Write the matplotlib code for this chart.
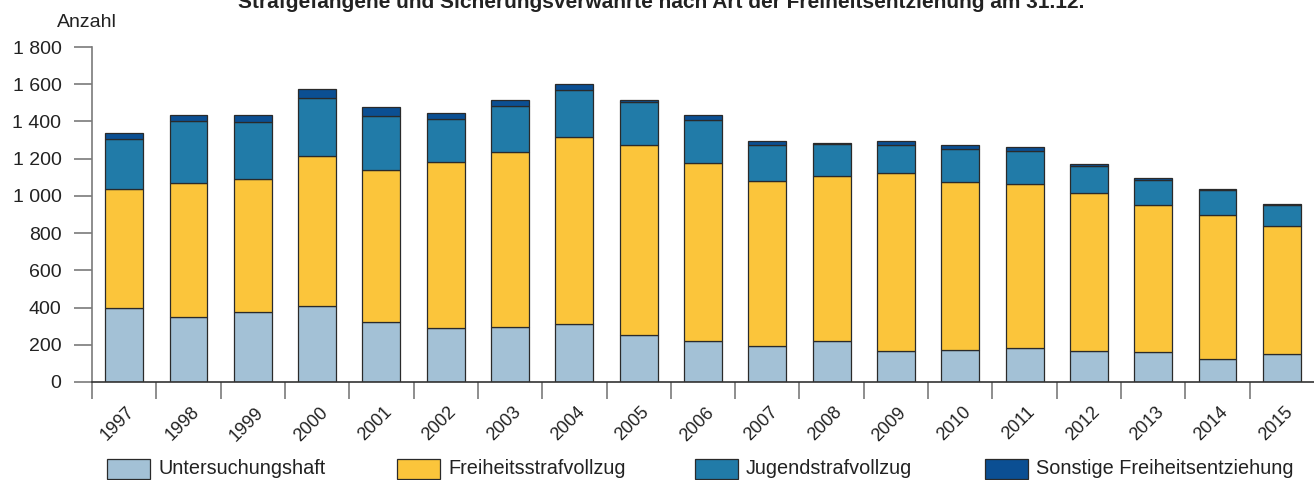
"""Strafgefangene und Sicherungsverwahrte nach Art der Freiheitsentziehung - stacked bars."""
import matplotlib
matplotlib.use('Agg')
import matplotlib.pyplot as plt
import matplotlib.transforms as mtransforms
from matplotlib.patches import Rectangle
from matplotlib.ticker import FuncFormatter
import numpy as np

# --- Data ---
years = [str(y) for y in range(1997, 2016)]
untersuchungshaft = [396, 351, 374, 407, 324, 289, 294, 312, 254, 219,
                     192, 219, 167, 170, 181, 167, 161, 125, 149]
freiheitsstrafvollzug = [641, 720, 718, 805, 815, 891, 940, 1003, 1017, 958,
                         886, 889, 954, 905, 881, 846, 788, 770, 691]
jugendstrafvollzug = [269, 333, 307, 316, 288, 233, 247, 252, 232, 233,
                      193, 171, 152, 179, 181, 150, 138, 138, 109]
sonstige = [34, 29, 37, 48, 49, 30, 34, 32, 12, 22,
            25, 7, 20, 19, 21, 10, 11, 6, 9]

series_names = ['Untersuchungshaft', 'Freiheitsstrafvollzug',
                'Jugendstrafvollzug', 'Sonstige Freiheitsentziehung']
colors = ['#a3c1d6', '#fbc53b', '#217ba8', '#0b4f93']
series = [untersuchungshaft, freiheitsstrafvollzug, jugendstrafvollzug, sonstige]

plt.rcParams['font.family'] = ['Liberation Sans', 'DejaVu Sans']
TXT = '#222222'
GREY = '#7a7a7a'
W, H = 1314, 480

fig = plt.figure(figsize=(W / 100, H / 100), dpi=100)
ax = fig.add_axes([92 / W, 1 - 382 / H, 1222 / W, 335 / H])

x = np.arange(len(years))
bottom = np.zeros(len(years))
for vals, col in zip(series, colors):
    ax.bar(x, vals, width=0.59, bottom=bottom, color=col,
           edgecolor='#2a2a2a', linewidth=0.9)
    bottom += np.array(vals)

ax.set_xlim(-0.5, len(years) - 0.5)
ax.set_ylim(0, 1800)
ax.set_yticks(range(0, 1801, 200))
ax.yaxis.set_major_formatter(FuncFormatter(lambda v, p: f"{int(v):,}".replace(',', ' ')))
ax.tick_params(axis='y', length=13, width=1.2, color=GREY, labelsize=14,
               labelcolor=TXT, pad=9)

# category boundaries as ticks, year labels under bar centers
ax.set_xticks(x - 0.5, minor=True)
ax.tick_params(axis='x', which='minor', length=12.5, width=1.2, color=GREY)
ax.set_xticks(x)
ax.set_xticklabels(years, rotation=45, ha='right', va='center',
                   rotation_mode='anchor', fontsize=13, color=TXT)
ax.tick_params(axis='x', which='major', length=0, pad=20)
offset = mtransforms.ScaledTranslation(0.08, 0, fig.dpi_scale_trans)
for lab in ax.get_xticklabels():
    lab.set_transform(lab.get_transform() + offset)

for side in ['top', 'right']:
    ax.spines[side].set_visible(False)
ax.spines['left'].set_color(GREY)
ax.spines['left'].set_linewidth(1.2)
ax.spines['bottom'].set_color('#333333')
ax.spines['bottom'].set_linewidth(1.2)

fig.text(661 / W, 1 - 8 / H, 'Strafgefangene und Sicherungsverwahrte nach Art der '
         'Freiheitsentziehung am 31.12.', ha='center', va='baseline',
         fontsize=15, fontweight='bold', color=TXT)
fig.text(57 / W, 1 - 27 / H, 'Anzahl', ha='left', va='baseline', fontsize=14, color=TXT)

# legend row drawn manually to keep the wide even spacing
leg_x = [107, 397, 695, 985]
for name, col, px in zip(series_names, colors, leg_x):
    fig.patches.append(Rectangle((px / W, 1 - 479 / H), 43 / W, 20 / H,
                                 transform=fig.transFigure, facecolor=col,
                                 edgecolor='#2a2a2a', linewidth=0.9))
    fig.text((px + 51) / W, 1 - 469 / H, name, ha='left', va='center',
             fontsize=14.3, color=TXT)

fig.savefig('out.png', dpi=100)
